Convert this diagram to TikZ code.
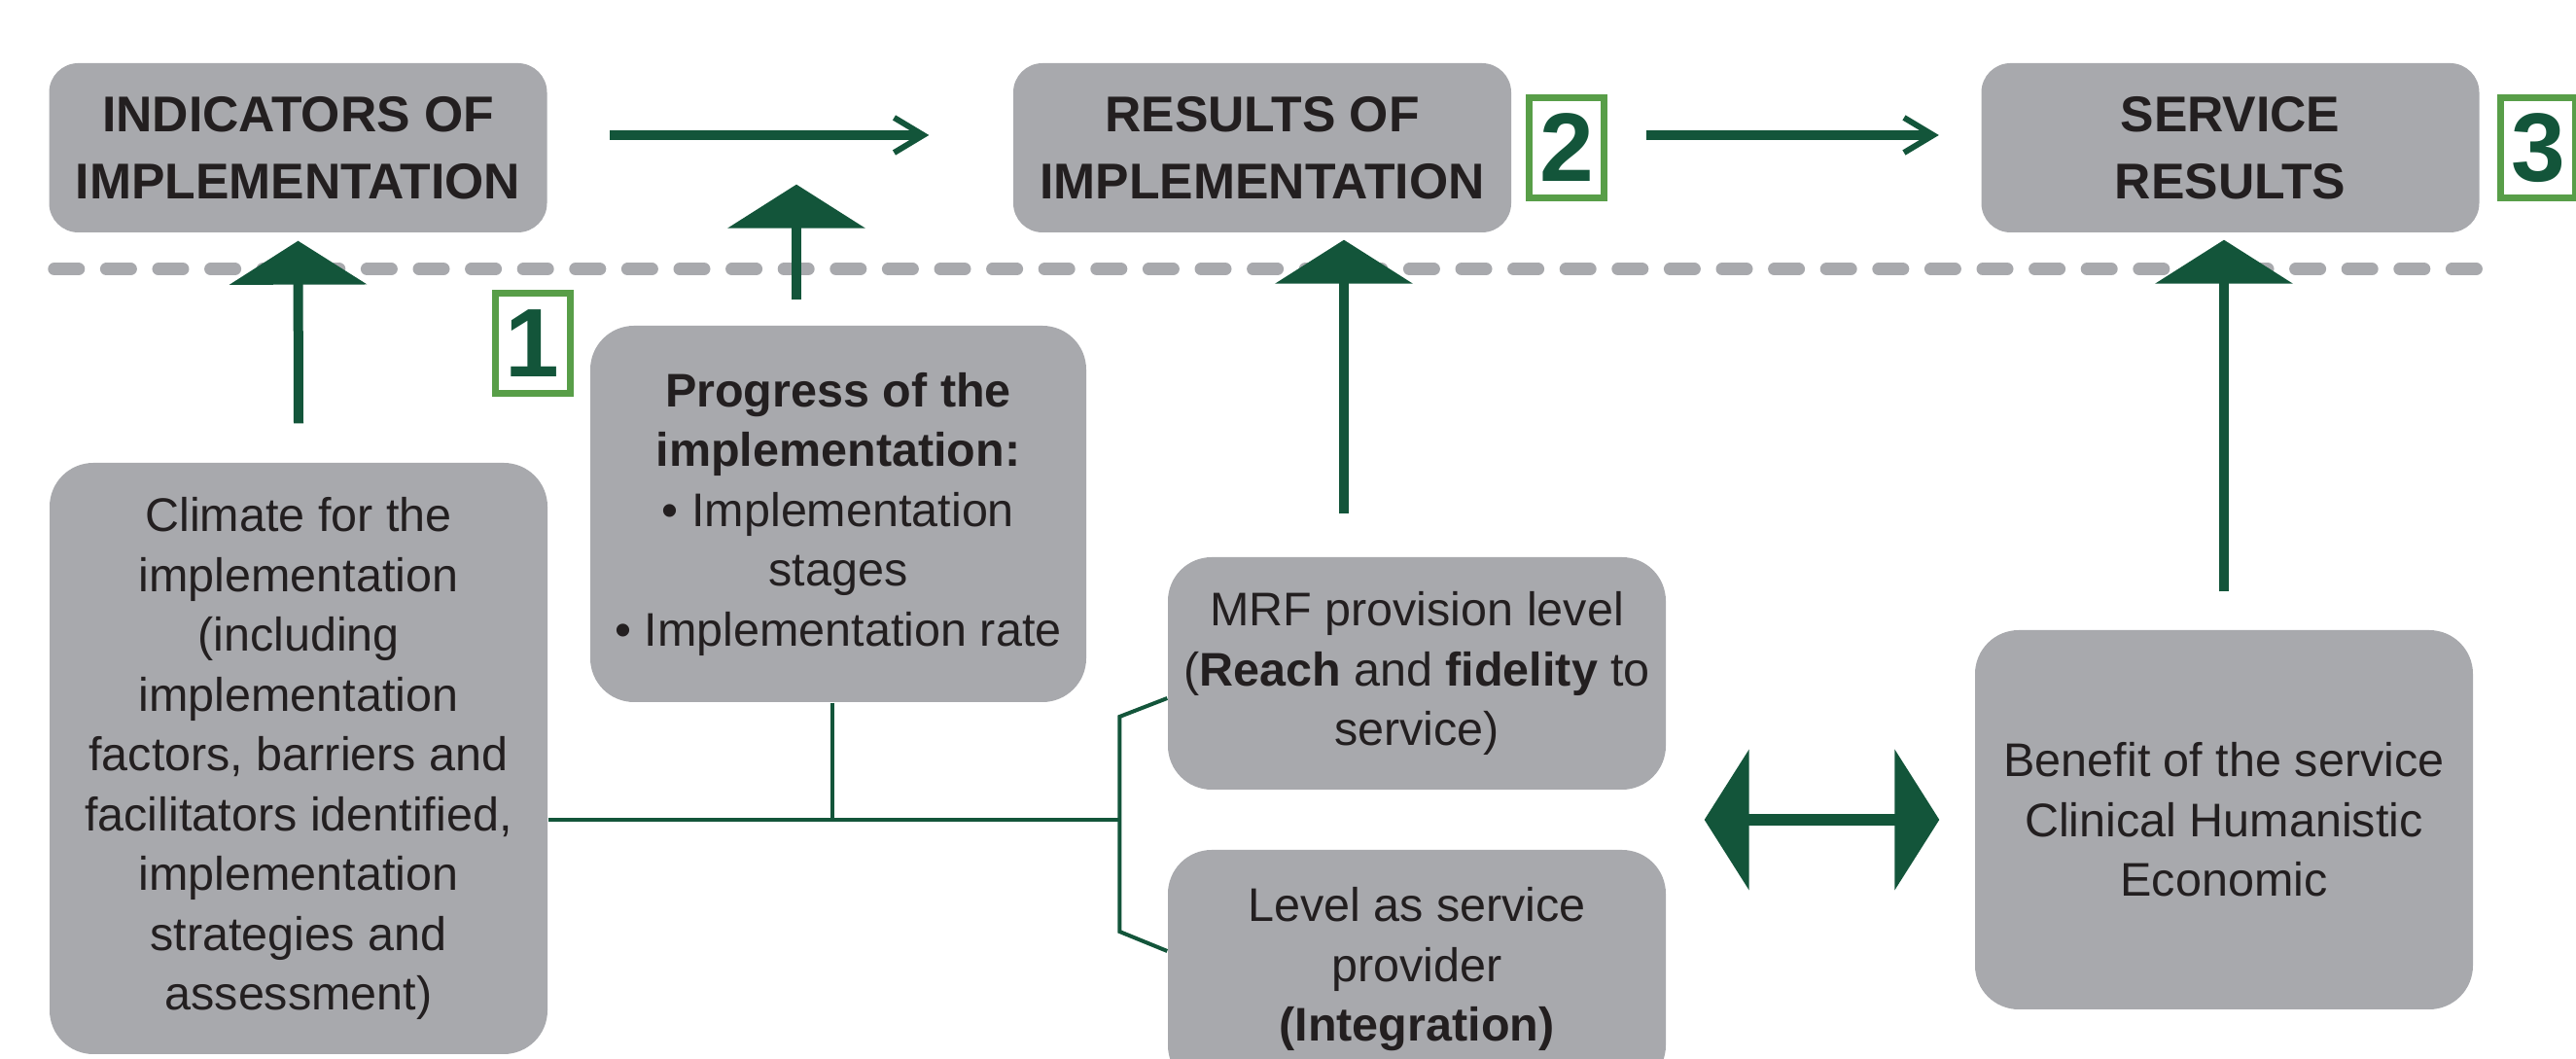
\documentclass[tikz,border=0pt]{standalone}
\usepackage{fontspec}
\setmainfont{Liberation Sans}
\usetikzlibrary{arrows.meta,calc}

\definecolor{boxgray}{RGB}{168,169,173}
\definecolor{darkgreen}{RGB}{19,85,58}
\definecolor{numgreen}{RGB}{88,158,72}
\definecolor{inkblack}{RGB}{35,31,32}

\begin{document}
\begin{tikzpicture}[
        every node/.style={text=inkblack,inner sep=0pt,align=center},
        headbox/.style={fill=boxgray,rounded corners=3mm,minimum width=5.12cm,minimum height=1.74cm,
            font=\bfseries\fontsize{14.7}{19.6}\selectfont},
        infobox/.style={fill=boxgray,rounded corners=4.5mm,minimum width=5.12cm,
            font=\fontsize{13.8}{17.5}\selectfont},
        numbox/.style={draw=numgreen,line width=0.7mm,minimum width=7.7mm,minimum height=10.3mm,
            text=darkgreen,font=\bfseries\fontsize{28.5}{30}\selectfont},
        flowarrow/.style={darkgreen,line width=1mm,-{Straight Barb[length=3mm,width=3.6mm,line width=0.6mm]}},
        bigarrow/.style={darkgreen,line width=1mm,-{Triangle[length=4.5mm,width=14mm]}},
        bothway/.style={darkgreen,line width=1.2mm,{Triangle[length=4.6mm,width=14.3mm]}-{Triangle[length=4.6mm,width=14.3mm]}},
        branch/.style={darkgreen,line width=0.4mm},
        divider/.style={boxgray,line width=1.3mm,line cap=round,dash pattern=on 2.5mm off 2.86mm}
    ]
    \useasboundingbox (0,0) rectangle (26.49,10.89);
    \clip (0,0) rectangle (26.49,10.89);

    \node[headbox] (indicators) at (3.065,9.37) {INDICATORS OF\\IMPLEMENTATION};
    \node[headbox] (results) at (12.98,9.37) {RESULTS OF\\IMPLEMENTATION};
    \node[headbox] (service) at (22.935,9.37) {SERVICE\\RESULTS};
    \node[numbox] (num1) at (5.475,7.36) {1};
    \node[numbox] (num2) at (16.11,9.37) {2};
    \node[numbox] (num3) at (26.10,9.37) {3};

    \node[infobox,minimum height=6.08cm] (climate) at (3.07,3.09)
        {Climate for the\\implementation\\(including\\implementation\\factors, barriers and\\facilitators identified,\\implementation\\strategies and\\assessment)};
    \node[infobox,minimum width=5.10cm,minimum height=3.87cm] (progress) at (8.62,5.605)
        {\textbf{Progress of the}\\\textbf{implementation:}\\\textbullet{} Implementation\\stages\\\textbullet{} Implementation rate};
    \node[infobox,minimum height=2.39cm] (mrf) at (14.57,3.965)
        {MRF provision level\\(\textbf{Reach} and \textbf{fidelity} to\\service)};
    \node[infobox,minimum height=2.46cm] (level) at (14.57,0.92)
        {Level as service\\provider\\\textbf{(Integration)}};
    \node[infobox,minimum height=3.90cm] (benefit) at (22.87,2.46)
        {Benefit of the service\\Clinical Humanistic\\Economic};

    \draw[divider] ([xshift=0.6mm,yshift=-3.7mm]indicators.south west) -- ([yshift=-3.7mm]service.south east);

    \draw[flowarrow] ([xshift=6.4mm,yshift=1.3mm]indicators.east) -- ([xshift=-8.6mm,yshift=1.3mm]results.west);
    \draw[flowarrow] ([xshift=4mm,yshift=1.3mm]num2.east) -- ([xshift=-4.3mm,yshift=1.3mm]service.west);

    \draw[bigarrow] ([yshift=4mm]climate.north) -- ([yshift=-0.8mm]indicators.south);
    \draw[bigarrow] ($(progress.north)+(-0.43,0.26)$) -- ($(progress.north |- indicators.south)+(-0.43,0.50)$);
    \draw[bigarrow] ($(mrf.north)+(-0.75,0.44)$) -- ($(mrf.north |- results.south)+(-0.75,-0.07)$);
    \draw[bigarrow] ([yshift=3.9mm]benefit.north) -- ($(benefit.north |- service.south)+(0,-0.07)$);
    \draw[bothway] ($(mrf.east |- benefit.west)+(0.39,0)$) -- ([xshift=-3.6mm]benefit.west);

    \coordinate (fork) at ($(mrf.west |- benefit.west)+(-0.49,0)$);
    \draw[branch] (climate.east |- fork) -- (fork);
    \draw[branch] ($(progress.south)+(-0.06,0)$) -- ($(progress.south |- fork)+(-0.06,0)$);
    \draw[branch] ([yshift=-2.55mm]mrf.west) -- ($(fork)+(0,1.06)$) -- ($(fork)+(0,-1.15)$) -- ([yshift=1.9mm]level.west);
\end{tikzpicture}
\end{document}
